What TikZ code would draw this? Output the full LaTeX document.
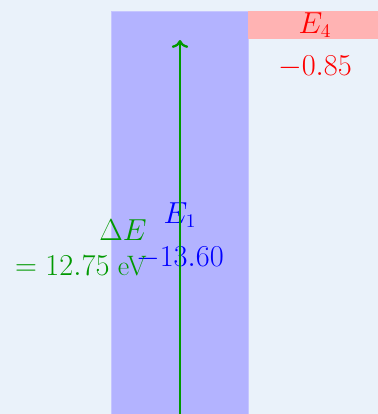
\documentclass[tikz,border=0pt]{standalone}
\usepackage{amsmath,amssymb}
\usepackage{xcolor}
\usepackage{tikz}
\usetikzlibrary{positioning,arrows.meta,calc}
\definecolor{LVLback}{HTML}{EAF2FA}
\definecolor{LVLcolumn}{HTML}{B3B3FF}
\definecolor{LVLedge}{HTML}{C6C6FF}
\definecolor{LVLpink}{HTML}{FFB3B3}
\definecolor{LVLgreen}{HTML}{009900}
\tikzset{
  levelcol/.style={draw=LVLedge, fill=LVLcolumn, line width=0.4pt, anchor=north west, inner sep=0pt},
  levelband/.style={fill=LVLpink, anchor=north west, inner sep=0pt},
  lvltext/.style={font=\fontsize{16}{20}\selectfont, inner sep=0pt},
  jumparr/.style={<->, draw=LVLgreen, line width=1.3pt}
}

\begin{document}
\begin{tikzpicture}[x=0.02cm, y=-0.02cm]
  \useasboundingbox (0,0) rectangle (378,414);
  \clip (0,0) rectangle (378,414);
  \fill[LVLback] (0,0) rectangle (378,414);
  % level columns
  \node[levelcol, minimum width=2.74cm, minimum height=8.3cm] (col1) at (111,11) {};
  \node[levelband, minimum width=2.8cm, minimum height=0.56cm] (band4) at (248,11) {};
  % level names and energies
  \node[lvltext, text=red] (name4) at (315,25) {$E_4$};
  \node[lvltext, text=red] (val4) at (315,67) {$-0.85$};
  \node[lvltext, text=blue] (name1) at (180,215) {$E_1$};
  \node[lvltext, text=blue] (val1) at (180,258) {$-13.60$};
  % transition
  \coordinate (lo) at (180,427);
  \coordinate (hi) at (180,40);
  \draw[jumparr] (lo) -- (hi);
  \node[lvltext, text=LVLgreen, align=right, anchor=east] (gap) at (147,248) {$\Delta E$\\$= 12.75$ eV};
\end{tikzpicture}
\end{document}
